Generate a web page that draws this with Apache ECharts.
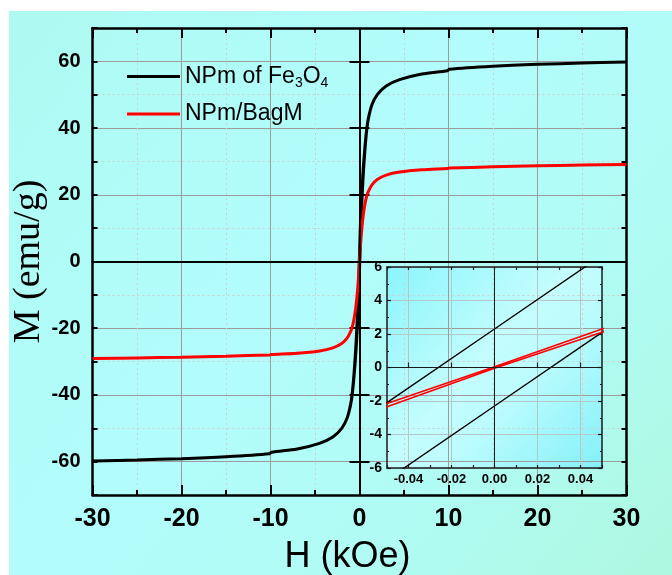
<!DOCTYPE html>
<html>
<head>
<meta charset="utf-8">
<script src="https://cdn.jsdelivr.net/npm/echarts@6/dist/echarts.min.js"></script>
<style>
  html, body { margin: 0; padding: 0; background: #ffffff; }
  #chart { width: 672px; height: 575px; }
</style>
</head>
<body>
<div id="chart"></div>
<script>
// Applied field (kOe) at which the magnetization was sampled
const fieldH = [-30, -25, -20, -15, -10.1, -9.9, -7, -4.5, -3, -2, -1.4, -1, -0.8, -0.6, -0.4, -0.2, -0.1, -0.05, 0,
                0.05, 0.1, 0.2, 0.4, 0.6, 0.8, 1, 1.4, 2, 3, 4.5, 7, 9.9, 10.1, 15, 20, 25, 30];

// Fe3O4 nanoparticles: magnetization (emu/g), decreasing-field and increasing-field sweeps
const fe3o4Down = [-59.8, -59.5, -59.1, -58.5, -57.6, -57.2, -56.2, -54.5, -52.6, -50, -47, -42.8, -39, -33, -25, -14, -6.4, -2.1, 2.3,
                   6.7, 11, 17.5, 27, 34, 39.5, 43, 47, 50, 52.6, 54.5, 56.2, 57.2, 57.6, 58.5, 59.1, 59.5, 59.8];
const fe3o4Up   = [-59.8, -59.5, -59.1, -58.5, -57.6, -57.2, -56.2, -54.5, -52.6, -50, -47, -43, -39.5, -34, -27, -17.5, -11, -6.7, -2.3,
                   2.1, 6.4, 14, 25, 33, 39, 42.8, 47, 50, 52.6, 54.5, 56.2, 57.2, 57.6, 58.5, 59.1, 59.5, 59.8];

// NPm/BagM composite: magnetization (emu/g), decreasing-field and increasing-field sweeps
const bagmDown = [-29.1, -28.9, -28.7, -28.4, -28, -27.9, -27.5, -26.8, -25.9, -24.6, -23, -21, -19.5, -17, -13.4, -8, -4.3, -2.15, 0.05,
                  2.3, 4.5, 8.2, 13.5, 17, 19.5, 21, 23, 24.6, 25.9, 26.8, 27.5, 27.9, 28, 28.4, 28.7, 28.9, 29.1];
const bagmUp   = [-29.1, -28.9, -28.7, -28.4, -28, -27.9, -27.5, -26.8, -25.9, -24.6, -23, -21, -19.5, -17, -13.5, -8.2, -4.5, -2.35, -0.05,
                  2.1, 4.3, 8, 13.4, 17, 19.5, 21, 23, 24.6, 25.9, 26.8, 27.5, 27.9, 28, 28.4, 28.7, 28.9, 29.1];

const seriesNames = ['NPm of Fe3O4', 'NPm/BagM'];

// Tick values
const mainYLabels = [-60, -40, -20, 0, 20, 40, 60];
const insetXLabels = [-0.04, -0.02, 0.00, 0.02, 0.04];

// full hysteresis loop: sweep down from +H max, then back up
function loop(down, up) {
  const pts = [];
  for (let i = fieldH.length - 1; i >= 0; i--) pts.push([fieldH[i], down[i]]);
  for (let i = 0; i < fieldH.length; i++) pts.push([fieldH[i], up[i]]);
  return pts;
}

const SANS = 'Liberation Sans, Arial, sans-serif';
const SERIF = 'Liberation Serif, Times New Roman, serif';

const chart = echarts.init(document.getElementById('chart'), null, { renderer: 'canvas' });

const frameMain = { show: true, lineStyle: { color: '#000', width: 2.5 } };
const frameInset = { show: true, lineStyle: { color: '#1a1a1a', width: 1.5 } };

const option = {
  animation: false,
  backgroundColor: '#ffffff',
  graphic: [{
    type: 'rect', z: -10, silent: true,
    shape: { x: 9, y: 11, width: 663, height: 564 },
    style: {
      fill: { type: 'linear', x: 0, y: 0, x2: 1, y2: 1, colorStops: [
        { offset: 0, color: '#aefaf2' }, { offset: 0.45, color: '#b2fdfc' },
        { offset: 0.75, color: '#b0fbf2' }, { offset: 1, color: '#aef8e0' }] }
    }
  }],
  legend: {
    data: seriesNames,
    orient: 'vertical',
    left: 127, top: 65, padding: 0,
    itemWidth: 53, itemHeight: 14, itemGap: 12,
    icon: 'path://M0,6 L53,6 L53,9 L0,9 Z',
    selectedMode: false,
    formatter: function (name) {
      if (name === 'NPm of Fe3O4') return '{t|NPm of Fe}{s|3}{t|O}{s|4}';
      return '{t|' + name + '}';
    },
    textStyle: {
      rich: {
        t: { fontFamily: SANS, fontSize: 23, color: '#000', lineHeight: 28 },
        s: { fontFamily: SANS, fontSize: 14, color: '#000', padding: [14, 0, 0, 0] }
      }
    }
  },
  grid: [
    { left: 92.5, top: 28, width: 534, height: 467, show: false, outerBoundsMode: 'none', containLabel: false },
    { left: 387, top: 267, width: 215, height: 201, show: true, borderWidth: 0,
      outerBoundsMode: 'none', containLabel: false,
      backgroundColor: { type: 'linear', x: 0, y: 0, x2: 1, y2: 1, colorStops: [
        { offset: 0, color: '#8af5fb' }, { offset: 0.45, color: '#c4fdfd' },
        { offset: 0.6, color: '#bdfcfd' }, { offset: 1, color: '#84f0f9' }] } }
  ],
  xAxis: [
    { // main bottom
      type: 'value', gridIndex: 0, position: 'bottom', min: -30, max: 30, interval: 10,
      axisLine: Object.assign({ onZero: false }, frameMain),
      axisTick: { inside: true, length: 10, lineStyle: { width: 2, color: '#000' } },
      minorTick: { show: true, splitNumber: 2, length: 5, lineStyle: { width: 2, color: '#000' } },
      axisLabel: { fontFamily: SANS, fontWeight: 'bold', fontSize: 25, color: '#000', margin: 12 },
      splitLine: { show: true, lineStyle: { color: '#9c9c9c', width: 1 } },
      minorSplitLine: { show: true, lineStyle: { color: '#cfcfcf', width: 1, type: [2, 3] } },
      name: 'H (kOe)', nameLocation: 'middle', nameGap: 44,
      nameTextStyle: { fontFamily: SANS, fontSize: 36, color: '#000', padding: [0, 24, 0, 0] }
    },
    { // main top frame
      type: 'value', gridIndex: 0, position: 'top', min: -30, max: 30, interval: 10,
      axisLine: Object.assign({ onZero: false }, frameMain),
      axisTick: { inside: true, length: 10, lineStyle: { width: 2, color: '#000' } },
      minorTick: { show: true, splitNumber: 2, length: 5, lineStyle: { width: 2, color: '#000' } },
      axisLabel: { show: false }, splitLine: { show: false }
    },
    { // inset bottom
      type: 'value', gridIndex: 1, position: 'bottom', min: -0.05, max: 0.05, interval: 0.01,
      axisLine: Object.assign({ onZero: false }, frameInset),
      axisTick: { inside: true, length: 3, lineStyle: { width: 1.2, color: '#1a1a1a' } },
      axisLabel: {
        fontFamily: SANS, fontWeight: 'bold', fontSize: 13, color: '#000', margin: 5,
        formatter: function (v) { return Math.round(v * 100) % 2 === 0 ? v.toFixed(2) : ''; }
      },
      splitLine: { show: false }
    },
    { // inset grid lines at the labelled field values
      type: 'value', gridIndex: 1, position: 'bottom', min: -0.05, max: 0.05,
      axisLine: { show: false },
      axisTick: { show: true, inside: true, length: 5, customValues: insetXLabels, lineStyle: { width: 1.2, color: '#1a1a1a' } },
      axisLabel: { show: false, customValues: insetXLabels },
      splitLine: { show: true, lineStyle: { color: '#b4c8c8', width: 1 } }
    },
    { // inset top frame
      type: 'value', gridIndex: 1, position: 'top', min: -0.05, max: 0.05, interval: 0.01,
      axisLine: Object.assign({ onZero: false }, frameInset),
      axisTick: { inside: true, length: 3, lineStyle: { width: 1.2, color: '#1a1a1a' } },
      axisLabel: { show: false }, splitLine: { show: false }
    }
  ],
  yAxis: [
    { // main left, every 10
      type: 'value', gridIndex: 0, position: 'left', min: -70, max: 70, interval: 10,
      axisLine: Object.assign({ onZero: false }, frameMain),
      axisTick: { inside: true, length: 5, lineStyle: { width: 2, color: '#000' } },
      axisLabel: {
        fontFamily: SANS, fontWeight: 'bold', fontSize: 20, color: '#000', margin: 12,
        formatter: function (v) { return v % 20 === 0 ? String(v) : ''; }
      },
      splitLine: { show: true, lineStyle: { color: '#cfcfcf', width: 1, type: [2, 3] } },
      name: 'M (emu/g)', nameLocation: 'middle', nameRotate: 90, nameGap: 44, nameMoveOverlap: false,
      nameTextStyle: { fontFamily: SERIF, fontSize: 38, color: '#000' }
    },
    { // main left, major ticks and grid lines
      type: 'value', gridIndex: 0, position: 'left', min: -70, max: 70,
      axisLine: { show: false },
      axisTick: { show: true, inside: true, length: 10, customValues: mainYLabels, lineStyle: { width: 2, color: '#000' } },
      axisLabel: { show: false, customValues: mainYLabels },
      splitLine: { show: true, lineStyle: { color: '#9c9c9c', width: 1 } }
    },
    { // main right frame
      type: 'value', gridIndex: 0, position: 'right', min: -70, max: 70, interval: 10,
      axisLine: Object.assign({ onZero: false }, frameMain),
      axisTick: { inside: true, length: 5, lineStyle: { width: 2, color: '#000' } },
      axisLabel: { show: false }, splitLine: { show: false }
    },
    { // main right, major ticks
      type: 'value', gridIndex: 0, position: 'right', min: -70, max: 70,
      axisLine: { show: false },
      axisTick: { show: true, inside: true, length: 10, customValues: mainYLabels, lineStyle: { width: 2, color: '#000' } },
      axisLabel: { show: false, customValues: mainYLabels }, splitLine: { show: false }
    },
    { // inset left
      type: 'value', gridIndex: 1, position: 'left', min: -6, max: 6, interval: 2,
      axisLine: Object.assign({ onZero: false }, frameInset),
      axisTick: { inside: true, length: 4, lineStyle: { width: 1.2, color: '#1a1a1a' } },
      minorTick: { show: true, splitNumber: 2, length: 2, lineStyle: { width: 1.2, color: '#1a1a1a' } },
      axisLabel: { fontFamily: SANS, fontWeight: 'bold', fontSize: 14, color: '#000', margin: 5 },
      splitLine: { show: true, lineStyle: { color: '#b4c8c8', width: 1 } }
    },
    { // inset right frame
      type: 'value', gridIndex: 1, position: 'right', min: -6, max: 6, interval: 2,
      axisLine: Object.assign({ onZero: false }, frameInset),
      axisTick: { inside: true, length: 4, lineStyle: { width: 1.2, color: '#1a1a1a' } },
      minorTick: { show: true, splitNumber: 2, length: 2, lineStyle: { width: 1.2, color: '#1a1a1a' } },
      axisLabel: { show: false }, splitLine: { show: false }
    }
  ],
  series: [
    {
      name: seriesNames[0], type: 'line', xAxisIndex: 0, yAxisIndex: 0,
      data: loop(fe3o4Down, fe3o4Up), showSymbol: false, symbol: 'none', smooth: 0.3,
      lineStyle: { color: '#000', width: 3 }, itemStyle: { color: '#000' }, z: 3,
      markLine: {
        silent: true, symbol: ['none', 'none'], label: { show: false }, animation: false,
        lineStyle: { color: '#000', width: 2, type: 'solid' },
        data: [{ xAxis: 0 }, { yAxis: 0 }]
      }
    },
    {
      name: seriesNames[1], type: 'line', xAxisIndex: 0, yAxisIndex: 0,
      data: loop(bagmDown, bagmUp), showSymbol: false, symbol: 'none', smooth: 0.3,
      lineStyle: { color: '#ff0000', width: 3 }, itemStyle: { color: '#ff0000' }, z: 3
    },
    {
      name: 'inset-fe3o4', type: 'line', xAxisIndex: 2, yAxisIndex: 4,
      data: loop(fe3o4Down, fe3o4Up), showSymbol: false, symbol: 'none', clip: true,
      lineStyle: { color: '#000', width: 1.4 }, z: 3,
      markLine: {
        silent: true, symbol: ['none', 'none'], label: { show: false }, animation: false,
        lineStyle: { color: '#1a1a1a', width: 1, type: 'solid' },
        data: [{ xAxis: 0 }, { yAxis: 0 }]
      }
    },
    {
      name: 'inset-bagm', type: 'line', xAxisIndex: 2, yAxisIndex: 4,
      data: loop(bagmDown, bagmUp), showSymbol: false, symbol: 'none', clip: true,
      lineStyle: { color: '#ff0000', width: 1.6 }, z: 3
    }
  ]
};

chart.setOption(option);
</script>
</body>
</html>
